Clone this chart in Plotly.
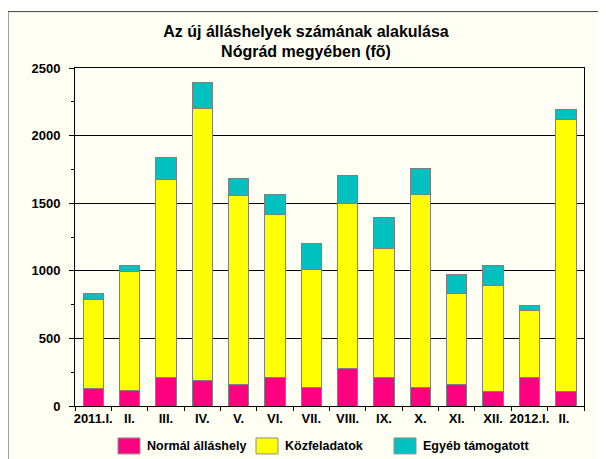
import plotly.graph_objects as go

categories = ["2011.I.", "II.", "III.", "IV.", "V.", "VI.", "VII.", "VIII.", "IX.", "X.", "XI.", "XII.", "2012.I.", "II. "]
normal = [131, 111, 214, 190, 157, 214, 135, 278, 209, 135, 157, 108, 214, 108]
kozfeladat_top = [785, 992, 1677, 2203, 1558, 1418, 1007, 1501, 1165, 1561, 832, 894, 704, 2122]
total_top = [835, 1039, 1841, 2395, 1682, 1561, 1199, 1708, 1394, 1756, 973, 1039, 741, 2193]
kozfeladat = [k - n for k, n in zip(kozfeladat_top, normal)]
egyeb = [t - k for t, k in zip(total_top, kozfeladat_top)]
series_names = ["Normál álláshely", "Közfeladatok", "Egyéb támogatott"]
series_colors = ["#FF0080", "#FFFF00", "#00C0C0"]
y_ticks = [0, 500, 1000, 1500, 2000, 2500]

# page offset caused by the default body margin
OX, OY = 8, 8
W, H = 606 - OX, 459 - OY
# plot area in page pixels
PL, PR, PT, PB = 75, 584, 67.5, 406
ML, MR, MT, MB = PL - OX, W - (PR - OX), PT - OY, H - (PB - OY)
PW = PR - PL
PH = PB - PT

def px_x(p):
    return (p - PL) / PW

def px_y(p):
    return (PB - p) / PH

FAM = "Liberation Sans, Arial, sans-serif"
font = dict(family=FAM, size=13, color="#000000", weight="bold")

fig = go.Figure()
for name, vals, col in zip(series_names, [normal, kozfeladat, egyeb], series_colors):
    fig.add_trace(go.Bar(
        x=categories, y=vals, name=name, showlegend=False,
        marker=dict(color=col, line=dict(color="#808080", width=1)),
    ))

cream = "#FFFFF3"
shapes = [dict(type="rect", xref="paper", yref="paper",
               x0=px_x(8), x1=px_x(603), y0=px_y(462), y1=px_y(11),
               line=dict(color="#404040", width=1), fillcolor=cream, layer="below")]
annotations = []
legend_x = [118, 256, 394]
for lx, name, col in zip(legend_x, series_names, series_colors):
    shapes.append(dict(type="rect", xref="paper", yref="paper",
                       x0=px_x(lx), x1=px_x(lx + 22), y0=px_y(454), y1=px_y(438),
                       line=dict(color="#909090", width=1), fillcolor=col, layer="above"))
    annotations.append(dict(text=name, xref="paper", yref="paper",
                            x=px_x(lx + 27), y=px_y(446), xanchor="left", yanchor="middle",
                            showarrow=False, font=dict(family=FAM, size=12.5, color="#000000", weight="bold")))

fig.update_layout(
    width=W, height=H,
    margin=dict(l=ML, r=MR, t=MT, b=MB, pad=0),
    barmode="stack", bargap=0.44,
    paper_bgcolor="#FFFFFF", plot_bgcolor=cream,
    font=font, showlegend=False,
    shapes=shapes, annotations=annotations,
    title=dict(
        text="Az új álláshelyek számának alakulása<br>Nógrád megyében (fõ)",
        font=dict(family=FAM, size=16, color="#000000", weight="bold"),
        x=(306 - OX) / W, xref="container", xanchor="center",
        y=(H - (36.5 - OY)) / H, yref="container", yanchor="middle",
        automargin=False,
    ),
    xaxis=dict(
        showline=True, linecolor="#000000", linewidth=1, mirror=True,
        ticks="outside", tickson="boundaries", ticklen=4, tickcolor="#000000",
        showgrid=False, tickfont=font, fixedrange=True, tickangle=0, automargin=False,
    ),
    yaxis=dict(
        range=[0, 2500], tickvals=y_ticks, showline=True, linecolor="#000000",
        linewidth=1, mirror=True, ticks="outside", ticklen=5, tickcolor="#000000",
        showgrid=True, gridcolor="#000000", gridwidth=1, zeroline=False,
        minor=dict(dtick=250, ticks="outside", ticklen=3, tickcolor="#000000", showgrid=False),
        tickfont=font, fixedrange=True, automargin=False, ticklabelstandoff=6,
    ),
)

fig.write_html("out.html")
